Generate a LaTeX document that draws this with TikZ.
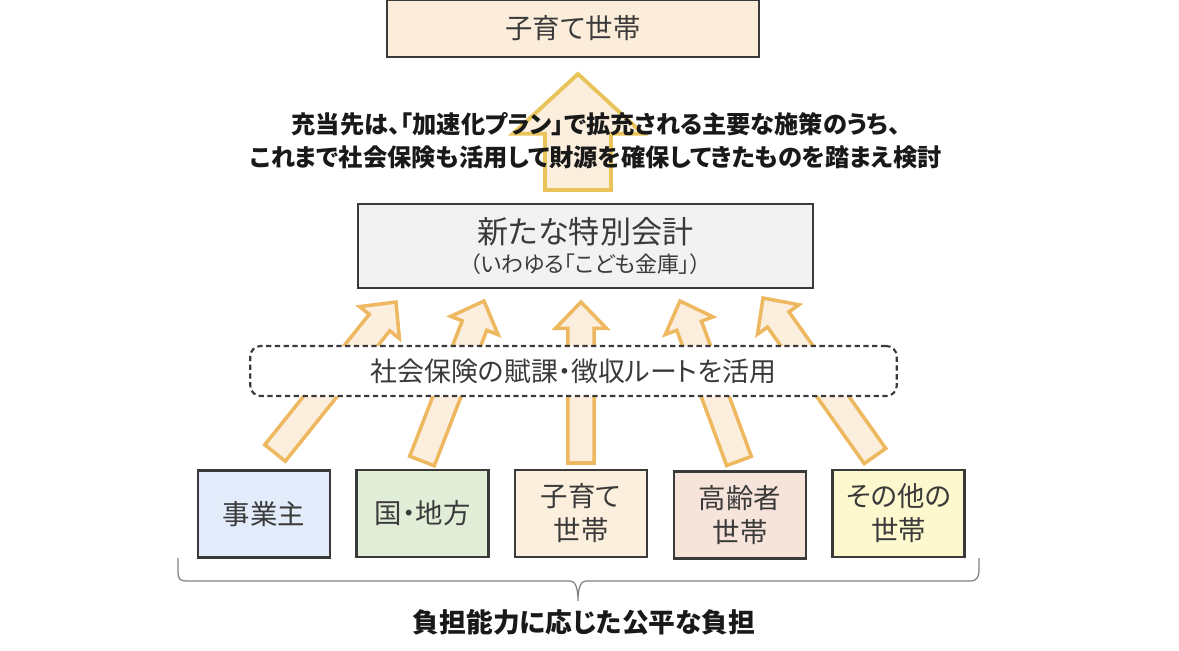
\documentclass[tikz,border=0pt]{standalone}
\usepackage{fontspec}
\setmainfont[RawFeature=+palt]{Noto Sans CJK JP}
\usetikzlibrary{calc}

\definecolor{boxline}{HTML}{3A3A3A}
\definecolor{textgray}{HTML}{3A3A3A}
\definecolor{arrowline}{HTML}{EDB85F}
\definecolor{arrowtop}{HTML}{E9C45A}
\definecolor{arrowfill}{HTML}{FBEEDD}
\definecolor{topfill}{HTML}{FBEDDA}
\definecolor{fundfill}{HTML}{F2F2F2}
\definecolor{bluefill}{HTML}{E2ECFA}
\definecolor{greenfill}{HTML}{E2EDD8}
\definecolor{peachfill}{HTML}{FDEFDD}
\definecolor{rosefill}{HTML}{F6E4DA}
\definecolor{yellowfill}{HTML}{FDF8CE}

\tikzset{
    box/.style={draw=boxline, line width=1.3pt, minimum width=75pt, minimum height=49.5pt,
        inner sep=0pt, align=center, text=textgray, font=\fontsize{15.6}{19.4}\selectfont},
    bigbox/.style={draw=boxline, line width=1.3pt, inner sep=0pt, align=center, text=textgray},
    note/.style={align=center, text=black!90, font=\fontsize{13.8}{18.6}\selectfont\bfseries},
    blockarrow/.style={draw=arrowline, fill=arrowfill, line width=2pt, miter limit=10},
    bracket/.style={draw=black!50, line width=0.7pt}
}

% tail, tip, half head width, half shaft width, head length
\newcommand{\blockarrow}[6][]{
    \coordinate (hb) at ($(#3)!#6!(#2)$);
    \draw[blockarrow, #1] ($(hb)!#5!90:(#2)$) -- ($(#2)!#5!-90:(#3)$) -- ($(#2)!#5!90:(#3)$)
        -- ($(hb)!#5!-90:(#2)$) -- ($(hb)!#4!-90:(#2)$) -- (#3) -- ($(hb)!#4!90:(#2)$) -- cycle;
}

\begin{document}
\begin{tikzpicture}[x=0.02cm, y=-0.02cm]

    \useasboundingbox (0,0) rectangle (1179,651);

    % arrow up to the top box
    \coordinate (toptail) at (578,190);
    \coordinate (toptip) at (578,74);
    \blockarrow[draw=arrowtop, line width=2.2pt]{toptail}{toptip}{37pt}{18.8pt}{34pt}

    \node[bigbox, fill=topfill, minimum width=212pt, minimum height=32.5pt,
        font=\fontsize{15.6}{19}\selectfont] (family) at (573,28.5) {子育て世帯};

    \node[note] (notes) at (596,141) {充当先は、「加速化プラン」で拡充される主要な施策のうち、\\これまで社会保険も活用して財源を確保してきたものを踏まえ検討};

    \node[bigbox, fill=fundfill, minimum width=259pt, minimum height=47.6pt] (fund) at (585.5,246)
        {\fontsize{17.7}{19}\selectfont 新たな特別会計\\[3.5pt]\fontsize{12.5}{15}\selectfont （いわゆる「こども金庫」）};

    % the five payer boxes
    \node[box, fill=bluefill] (employer) at (264,514) {事業主};
    \node[box, fill=greenfill] (state) at (422.5,513.5) {国・地方};
    \node[box, fill=peachfill] (parents) at (581,513.5) {子育て\\世帯};
    \node[box, fill=rosefill] (elderly) at (740,515) {高齢者\\世帯};
    \node[box, fill=yellowfill] (others) at (898.5,513.5) {その他の\\世帯};

    % arrows up to the fund
    \coordinate (tail1) at (275,453);
    \coordinate (tip1) at (396,302);
    \coordinate (tail2) at (422,461);
    \coordinate (tip2) at (484,301);
    \coordinate (tail3) at (581,463);
    \coordinate (tip3) at (581,302);
    \coordinate (tail4) at (739,461);
    \coordinate (tip4) at (680,301);
    \coordinate (tail5) at (875,456);
    \coordinate (tip5) at (763,298);

    \foreach \n in {1,...,5} {
        \blockarrow{tail\n}{tip\n}{14.5pt}{7.5pt}{15pt}
    }

    \node[draw=boxline, densely dashed, line width=1.2pt, fill=white, rounded corners=6pt,
        minimum width=368pt, minimum height=28.5pt, inner sep=0pt, text=textgray,
        font=\fontsize{15.3}{18}\selectfont] (route) at (573.5,371) {社会保険の賦課・徴収ルートを活用};

    % bracket under the boxes
    \coordinate (bl) at (178,558);
    \coordinate (br) at (979,558);
    \coordinate (bm) at (578,601);
    \draw[bracket] (bl) -- ++(0,13) .. controls ++(0,8) and ++(-6,0) .. ++(8,10) -- (570,581)
        .. controls (575,581) and (578,587) .. (bm)
        .. controls (578,587) and (581,581) .. (586,581) -- (971,581)
        .. controls (976,581) and (979,577) .. (979,571) -- (br);

    \node[font=\fontsize{15.2}{18}\selectfont\bfseries, text=black!90] (burden) at (584,622) {負担能力に応じた公平な負担};

\end{tikzpicture}
\end{document}
